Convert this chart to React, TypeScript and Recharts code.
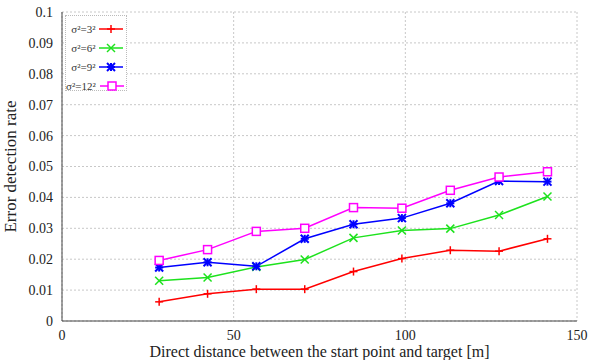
import {
  CartesianGrid,
  Line,
  LineChart,
  XAxis,
  YAxis,
} from "recharts";

const distances = [28.3, 42.4, 56.6, 70.7, 84.9, 99.0, 113.1, 127.3, 141.4];
const var3 = [0.0062, 0.0088, 0.0103, 0.0103, 0.016, 0.0202, 0.0229, 0.0226, 0.0266];
const var6 = [0.013, 0.0141, 0.0175, 0.0199, 0.0269, 0.0293, 0.0299, 0.0343, 0.0403];
const var9 = [0.0173, 0.019, 0.0177, 0.0266, 0.0313, 0.0333, 0.0381, 0.0453, 0.0451];
const var12 = [0.0196, 0.0231, 0.029, 0.03, 0.0367, 0.0365, 0.0423, 0.0466, 0.0483];

const xTicks = [0, 50, 100, 150];
const yTicks = [0, 0.01, 0.02, 0.03, 0.04, 0.05, 0.06, 0.07, 0.08, 0.09, 0.1];

const data = distances.map((d, i) => ({
  d,
  s3: var3[i],
  s6: var6[i],
  s9: var9[i],
  s12: var12[i],
}));

const series = [
  { key: "s3", name: "σ²=3²", color: "#ff0000", marker: "plus" },
  { key: "s6", name: "σ²=6²", color: "#1de21d", marker: "cross" },
  { key: "s9", name: "σ²=9²", color: "#0000ff", marker: "star" },
  { key: "s12", name: "σ²=12²", color: "#ff00ff", marker: "square" },
];

const FONT = "Liberation Serif, Times New Roman, serif";

function Marker({ cx, cy, kind, color }: { cx: number; cy: number; kind: string; color: string }) {
  const r = 4;
  if (kind === "plus") {
    return (
      <g stroke={color} strokeWidth={1.5}>
        <line x1={cx - r} y1={cy} x2={cx + r} y2={cy} />
        <line x1={cx} y1={cy - r} x2={cx} y2={cy + r} />
      </g>
    );
  }
  if (kind === "cross") {
    return (
      <g stroke={color} strokeWidth={1.5}>
        <line x1={cx - r} y1={cy - r} x2={cx + r} y2={cy + r} />
        <line x1={cx - r} y1={cy + r} x2={cx + r} y2={cy - r} />
      </g>
    );
  }
  if (kind === "star") {
    return (
      <g stroke={color} strokeWidth={2}>
        <line x1={cx - r} y1={cy - r} x2={cx + r} y2={cy + r} />
        <line x1={cx - r} y1={cy + r} x2={cx + r} y2={cy - r} />
        <line x1={cx - r} y1={cy} x2={cx + r} y2={cy} />
        <line x1={cx} y1={cy - r} x2={cx} y2={cy + r} />
      </g>
    );
  }
  return (
    <rect x={cx - 4} y={cy - 4} width={8} height={8} fill="#fff" stroke={color} strokeWidth={1.5} />
  );
}

function LegendBox() {
  return (
    <div
      style={{
        position: "absolute",
        left: 65,
        top: 15,
        width: 62,
        height: 76,
        boxSizing: "border-box",
        border: "1px dotted #bbb",
        background: "#fff",
        padding: "3px 2px 0 0",
        fontSize: 11,
        color: "#333",
      }}
    >
      {series.map((s) => (
        <div key={s.key} style={{ display: "flex", alignItems: "center", height: 19 }}>
          <span style={{ width: 30, textAlign: "right", whiteSpace: "nowrap" }}>{s.name}</span>
          <svg width={26} height={12} style={{ marginLeft: 3 }}>
            <line x1={1} y1={6} x2={25} y2={6} stroke={s.color} strokeWidth={1.5} />
            <Marker cx={13} cy={6} kind={s.marker} color={s.color} />
          </svg>
        </div>
      ))}
    </div>
  );
}

export default function App() {
  return (
    <div
      style={{
        position: "absolute",
        left: 0,
        top: 0,
        width: 590,
        height: 360,
        background: "#fff",
        fontFamily: FONT,
      }}
    >
      <LineChart
        width={590}
        height={360}
        data={data}
        margin={{ top: 12, right: 13, bottom: 0, left: 0 }}
        style={{ fontFamily: FONT }}
      >
        <CartesianGrid stroke="#c8c8c8" strokeDasharray="2 2" />
        <XAxis
          dataKey="d"
          type="number"
          domain={[0, 150]}
          ticks={xTicks}
          height={39}
          tickLine={false}
          tickSize={0}
          tickMargin={9}
          stroke="#444"
          tick={{ fill: "#222", fontSize: 14, fontFamily: FONT }}
          label={{
            value: "Direct distance between the start point and target [m]",
            position: "insideBottom",
            offset: 3,
            style: { fill: "#222", fontSize: 16, fontFamily: FONT },
          }}
        />
        <XAxis
          xAxisId="top"
          dataKey="d"
          type="number"
          domain={[0, 150]}
          orientation="top"
          tick={false}
          tickLine={false}
          height={0}
          stroke="#444"
        />
        <YAxis
          type="number"
          domain={[0, 0.1]}
          ticks={yTicks}
          width={62}
          tickLine={false}
          tickSize={0}
          tickMargin={9}
          stroke="#444"
          tickFormatter={(v: number) => String(Number(v.toFixed(2)))}
          tick={{ fill: "#222", fontSize: 14, fontFamily: FONT }}
          label={{
            value: "Error detection rate",
            angle: -90,
            position: "insideLeft",
            offset: 10,
            style: { fill: "#222", fontSize: 17, fontFamily: FONT, textAnchor: "middle" },
          }}
        />
        <YAxis
          yAxisId="right"
          orientation="right"
          domain={[0, 0.1]}
          tick={false}
          tickLine={false}
          width={0}
          stroke="#444"
        />
        {series.map((s) => (
          <Line
            key={s.key}
            dataKey={s.key}
            name={s.name}
            stroke={s.color}
            strokeWidth={1.5}
            isAnimationActive={false}
            dot={(p: any) => (
              <Marker key={`${s.key}-${p.index}`} cx={p.cx} cy={p.cy} kind={s.marker} color={s.color} />
            )}
            activeDot={false}
          />
        ))}
      </LineChart>
      <LegendBox />
    </div>
  );
}
